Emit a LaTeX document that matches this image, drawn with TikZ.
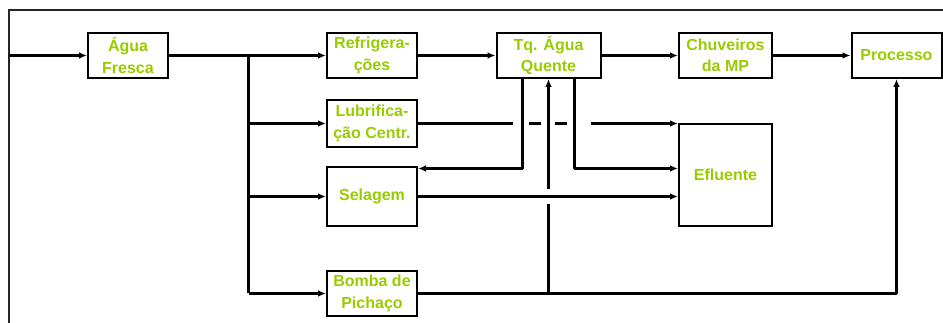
\documentclass[tikz,border=0pt]{standalone}
\usepackage{fontspec}
\setmainfont{Liberation Sans}
\usetikzlibrary{arrows.meta}
\definecolor{labelgreen}{RGB}{153,204,0}
\begin{document}
\begin{tikzpicture}[x=0.75pt,y=-0.75pt,
  box/.style={draw=black,line width=1.5pt,fill=white,inner sep=0pt,
    align=center,text=labelgreen,font=\bfseries\fontsize{12}{16}\selectfont},
  flow/.style={line width=2.25pt,line join=round},
  arr/.style={flow,-{Latex[length=6pt,width=5pt]}},
  frame/.style={line width=1.2pt,draw=black!85}]
\useasboundingbox (0,0) rectangle (943,323);

% outer frame (top and left edges)
\draw[frame] (943,10) -- (9,10) -- (9,323);

% process boxes
\node[box,minimum width=80pt*0.75,minimum height=45pt*0.75] (agua) at (128,55.5) {Água\\Fresca};
\node[box,minimum width=90pt*0.75,minimum height=45pt*0.75] (refr) at (372,55.5) {Refrigera-\\ções};
\node[box,minimum width=104pt*0.75,minimum height=45pt*0.75] (tq) at (548.5,55.5) {Tq. Água\\Quente};
\node[box,minimum width=93pt*0.75,minimum height=45pt*0.75] (chuv) at (725.5,55.5) {Chuveiros\\da MP};
\node[box,minimum width=90pt*0.75,minimum height=45pt*0.75] (proc) at (896.5,55.5) {Processo};
\node[box,minimum width=90pt*0.75,minimum height=47pt*0.75] (lub) at (372,123.5) {Lubrifica-\\ção Centr.};
\node[box,minimum width=90pt*0.75,minimum height=59pt*0.75] (sel) at (372,196.5) {Selagem};
\node[box,minimum width=90pt*0.75,minimum height=45pt*0.75] (bomba) at (372,293.5) {Bomba de\\Pichaço};
\node[box,minimum width=93pt*0.75,minimum height=102pt*0.75] (eflu) at (725.5,175) {Efluente};

% fresh water inlet and distribution bus
\coordinate (inlet) at (9,55.5);
\coordinate (busTop) at (248.5,55.5);
\coordinate (busBot) at (248.5,293.5);
\draw[arr] (inlet) -- (agua.west);
\draw[arr] (agua.east) -- (refr.west);
\draw[flow] (busTop) -- (busBot);
\draw[arr] (busTop |- lub.west) -- (lub.west);
\draw[arr] (busTop |- sel.west) -- (sel.west);
\draw[arr] (busBot) -- (bomba.west);

% top row
\draw[arr] (refr.east) -- (tq.west);
\draw[arr] (tq.east) -- (chuv.west);
\draw[arr] (chuv.east) -- (proc.west);

% hot water tank outlets
\coordinate (tqL) at (522.5,168.5);
\coordinate (tqR) at (574.5,168.5);
\draw[arr] (tqL |- tq.south) -- (tqL) -- (sel.east |- tqL);
\draw[arr] (tqR |- tq.south) -- (tqR) -- (eflu.west |- tqR);

% centrifuge lubrication to effluent, broken where it crosses
\coordinate (lubA) at (513,123.5);
\coordinate (lubB) at (529,123.5);
\coordinate (lubC) at (541,123.5);
\coordinate (lubD) at (555,123.5);
\coordinate (lubE) at (567,123.5);
\coordinate (lubF) at (591,123.5);
\draw[flow] (lub.east |- lubA) -- (lubA);
\draw[flow] (lubB) -- (lubC);
\draw[flow] (lubD) -- (lubE);
\draw[arr] (lubF) -- (eflu.west |- lubF);

% sealing water to effluent
\draw[arr] (sel.east) -- (eflu.west |- sel.east);

% pitch pump line to process, with return branch to the tank
\coordinate (pumpCross) at (548.5,293.5);
\coordinate (pumpTurn) at (896.5,293.5);
\coordinate (gapLow) at (548.5,204);
\coordinate (gapHigh) at (548.5,189);
\draw[arr] (bomba.east) -- (pumpTurn) -- (proc.south);
\draw[flow] (pumpCross) -- (gapLow);
\draw[arr] (gapHigh) -- (tq.south);
\end{tikzpicture}
\end{document}
